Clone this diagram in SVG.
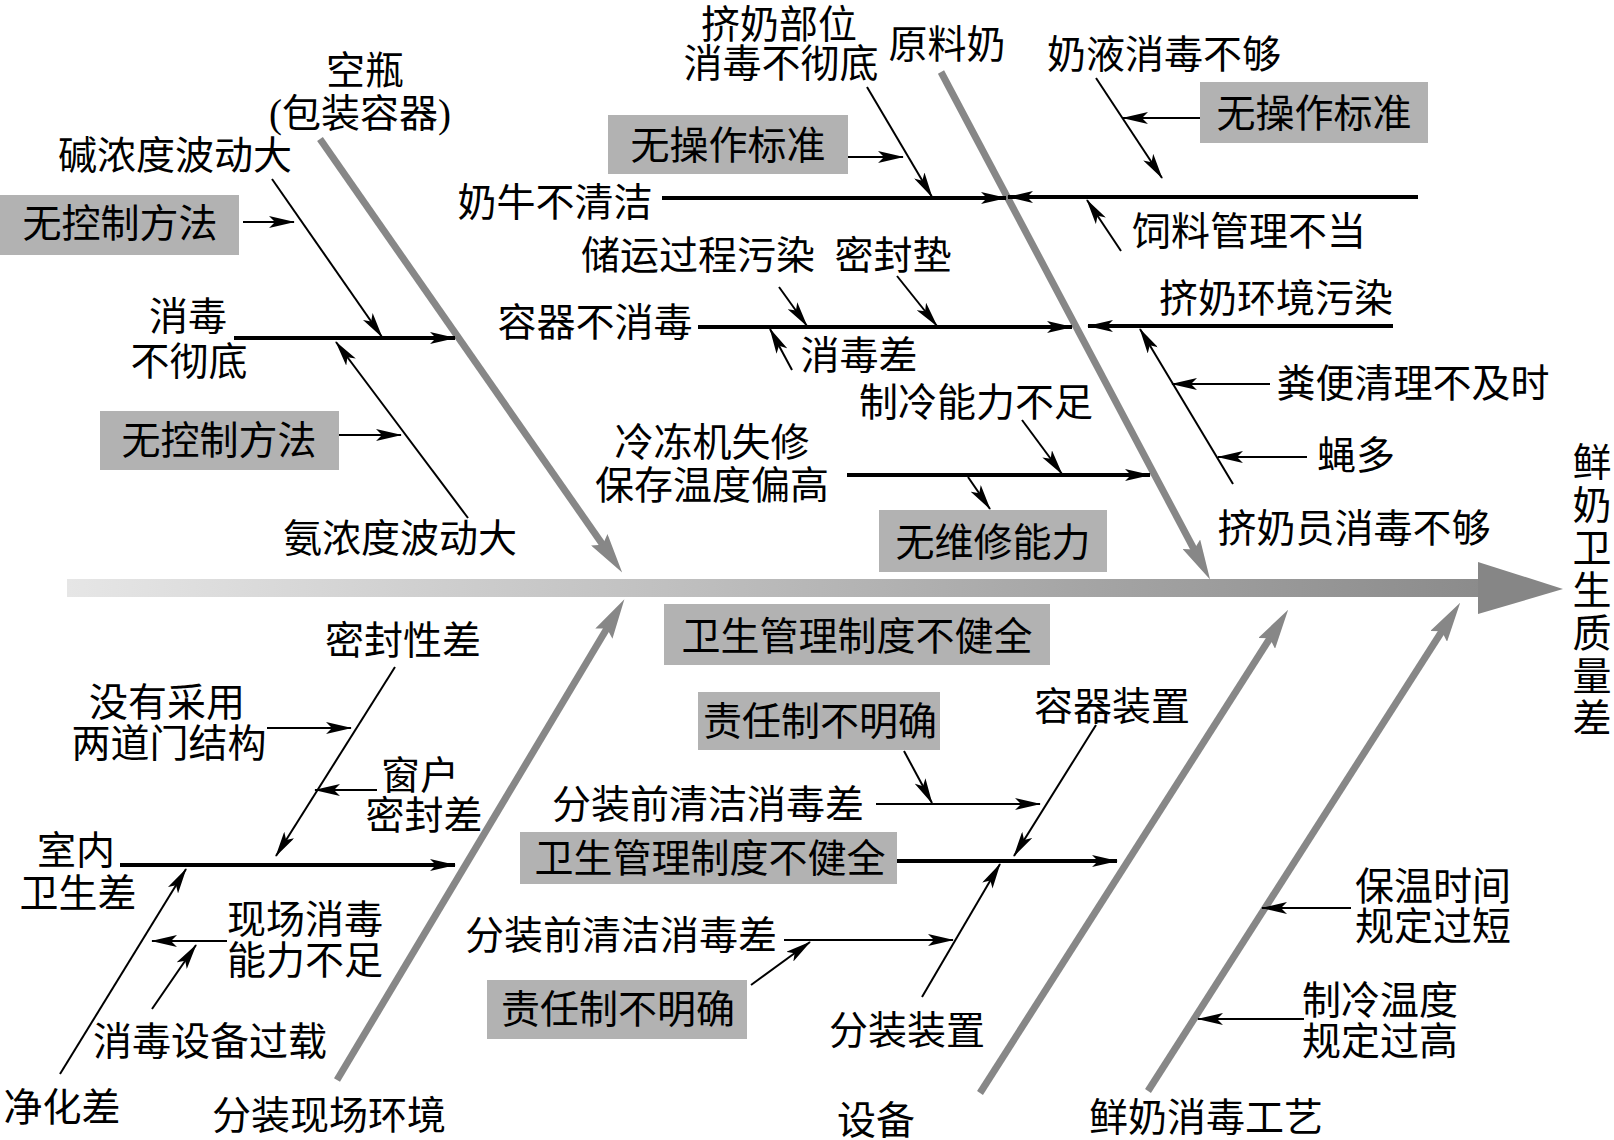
<svg xmlns="http://www.w3.org/2000/svg" width="1614" height="1140" viewBox="0 0 1614 1140">
<defs>
<linearGradient id="spineGrad" x1="67" y1="0" x2="1563" y2="0" gradientUnits="userSpaceOnUse">
<stop offset="0" stop-color="#e6e6e6"/>
<stop offset="0.4" stop-color="#c0c0c0"/>
<stop offset="1" stop-color="#868686"/>
</linearGradient>
<marker id="ga" viewBox="0 0 40 20" refX="10" refY="10" markerWidth="40" markerHeight="20" markerUnits="userSpaceOnUse" orient="auto">
<path d="M0,0 L40,10 L0,20 L6,10 Z" fill="#878787"/>
</marker>
<marker id="ba" viewBox="0 0 26 12" refX="25" refY="6" markerWidth="26" markerHeight="12" markerUnits="userSpaceOnUse" orient="auto">
<path d="M0,0 L26,6 L0,12 L6,6 Z" fill="#000"/>
</marker>
</defs>
<style>
text{font-family:"Liberation Serif","Noto Sans CJK SC",serif;font-size:39px;fill:#000;text-anchor:middle;dominant-baseline:central}
.bone{stroke:#878787;stroke-width:7;fill:none;marker-end:url(#ga)}
.t{stroke:#000;stroke-width:2;fill:none}
.k{stroke:#000;stroke-width:4;fill:none}
.ar{marker-end:url(#ba)}
.box{fill:#b2b2b2}
</style>
<rect width="1614" height="1140" fill="#fff"/>

<g id="spine">
<rect x="67" y="579" width="1412" height="18" fill="url(#spineGrad)"/>
<polygon points="1478,562 1563,589 1478,614" fill="#868686"/>
</g>

<g id="connectors">
<line class="bone" x1="320" y1="139" x2="605" y2="548"/>
<line class="bone" x1="941" y1="72" x2="1196" y2="553"/>
<line class="bone" x1="337" y1="1080" x2="609" y2="625"/>
<line class="bone" x1="980" y1="1093" x2="1272" y2="635"/>
<line class="bone" x1="1148" y1="1091" x2="1444" y2="628"/>

<line class="k ar" x1="234" y1="338" x2="455" y2="338"/>
<line class="t ar" x1="272" y1="179" x2="382" y2="337"/>
<line class="t ar" x1="243" y1="222" x2="294" y2="222"/>
<line class="t ar" x1="468" y1="518" x2="336" y2="342"/>
<line class="t ar" x1="339" y1="435" x2="401" y2="435"/>

<line class="k ar" x1="662" y1="198" x2="1006" y2="198"/>
<line class="t ar" x1="867" y1="87" x2="932" y2="197"/>
<line class="t ar" x1="848" y1="157" x2="903" y2="157"/>
<line class="k ar" x1="698" y1="327" x2="1072" y2="327"/>
<line class="t ar" x1="779" y1="287" x2="807" y2="326"/>
<line class="t ar" x1="897" y1="276" x2="937" y2="326"/>
<line class="t ar" x1="792" y1="370" x2="770" y2="329"/>
<line class="k ar" x1="847" y1="475" x2="1150" y2="475"/>
<line class="t ar" x1="1022" y1="420" x2="1062" y2="474"/>
<line class="t ar" x1="968" y1="477" x2="990" y2="509"/>

<line class="t ar" x1="1096" y1="78" x2="1162" y2="178"/>
<line class="t ar" x1="1200" y1="118" x2="1123" y2="118"/>
<line class="k ar" x1="1418" y1="197" x2="1008" y2="197"/>
<line class="t ar" x1="1121" y1="251" x2="1087" y2="200"/>
<line class="k ar" x1="1393" y1="326" x2="1088" y2="326"/>
<line class="t ar" x1="1270" y1="384" x2="1172" y2="384"/>
<line class="t ar" x1="1307" y1="457" x2="1218" y2="457"/>
<line class="t ar" x1="1233" y1="484" x2="1140" y2="329"/>

<line class="k ar" x1="120" y1="865" x2="455" y2="865"/>
<line class="t ar" x1="395" y1="667" x2="276" y2="856"/>
<line class="t ar" x1="267" y1="728" x2="351" y2="728"/>
<line class="t ar" x1="377" y1="790" x2="315" y2="790"/>
<line class="t ar" x1="60" y1="1074" x2="186" y2="869"/>
<line class="t ar" x1="227" y1="941" x2="152" y2="941"/>
<line class="t ar" x1="152" y1="1009" x2="196" y2="945"/>

<line class="t ar" x1="904" y1="751" x2="932" y2="803"/>
<line class="t ar" x1="876" y1="804" x2="1040" y2="804"/>
<line class="t ar" x1="1096" y1="725" x2="1014" y2="856"/>
<line class="k ar" x1="897" y1="861" x2="1117" y2="861"/>
<line class="t ar" x1="784" y1="940" x2="953" y2="940"/>
<line class="t ar" x1="751" y1="985" x2="810" y2="942"/>
<line class="t ar" x1="922" y1="997" x2="1000" y2="864"/>

<line class="t ar" x1="1351" y1="908" x2="1262" y2="908"/>
<line class="t ar" x1="1304" y1="1019" x2="1198" y2="1019"/>
</g>

<g id="effect">
<text x="1592" y="462">鲜</text>
<text x="1592" y="505">奶</text>
<text x="1592" y="548">卫</text>
<text x="1592" y="590">生</text>
<text x="1592" y="633">质</text>
<text x="1592" y="676">量</text>
<text x="1592" y="718">差</text>
</g>

<g id="cat-kongping"><text x="365" y="70">空瓶</text><text x="360" y="113">(包装容器)</text></g>
<g id="cat-yuanliaonai"><text x="947" y="44">原料奶</text></g>
<g id="cat-fenzhuang"><text x="329" y="1115">分装现场环境</text></g>
<g id="cat-shebei"><text x="876" y="1120">设备</text></g>
<g id="cat-gongyi"><text x="1206" y="1117">鲜奶消毒工艺</text></g>

<g id="n-xiaodu"><text x="188" y="316">消毒</text><text x="189" y="361">不彻底</text></g>
<g id="n-jian"><text x="175" y="155">碱浓度波动大</text></g>
<g id="n-wkz1"><rect class="box" x="0" y="195" width="239" height="60"/><text x="120" y="223">无控制方法</text></g>
<g id="n-wkz2"><rect class="box" x="100" y="411" width="239" height="59"/><text x="219" y="440">无控制方法</text></g>
<g id="n-an"><text x="400" y="538">氨浓度波动大</text></g>

<g id="n-jinai"><text x="779" y="24">挤奶部位</text><text x="781" y="63">消毒不彻底</text></g>
<g id="n-wcz1"><rect class="box" x="608" y="115" width="240" height="59"/><text x="728" y="145">无操作标准</text></g>
<g id="n-nainiu"><text x="555" y="202">奶牛不清洁</text></g>
<g id="n-chuyun"><text x="698" y="255">储运过程污染</text></g>
<g id="n-mifengdian"><text x="893" y="255">密封垫</text></g>
<g id="n-rongqi"><text x="595" y="322">容器不消毒</text></g>
<g id="n-xdc"><text x="859" y="355">消毒差</text></g>
<g id="n-zhileng"><text x="976" y="402">制冷能力不足</text></g>
<g id="n-lengdong"><text x="712" y="442">冷冻机失修</text><text x="712" y="485">保存温度偏高</text></g>
<g id="n-wwx"><rect class="box" x="879" y="510" width="228" height="62"/><text x="993" y="542">无维修能力</text></g>

<g id="n-naiye"><text x="1164" y="54">奶液消毒不够</text></g>
<g id="n-wcz2"><rect class="box" x="1200" y="82" width="228" height="61"/><text x="1314" y="113">无操作标准</text></g>
<g id="n-siliao"><text x="1249" y="231">饲料管理不当</text></g>
<g id="n-huanjing"><text x="1276" y="298">挤奶环境污染</text></g>
<g id="n-fenbian"><text x="1413" y="383">粪便清理不及时</text></g>
<g id="n-ying"><text x="1356" y="455">蝇多</text></g>
<g id="n-jinaiyuan"><text x="1354" y="528">挤奶员消毒不够</text></g>

<g id="n-shinei"><text x="76" y="850">室内</text><text x="78" y="893">卫生差</text></g>
<g id="n-mifengxing"><text x="403" y="640">密封性差</text></g>
<g id="n-liangdao"><text x="167" y="702">没有采用</text><text x="169" y="743">两道门结构</text></g>
<g id="n-chuanghu"><text x="420" y="775">窗户</text><text x="424" y="815">密封差</text></g>
<g id="n-jinghua"><text x="62" y="1107">净化差</text></g>
<g id="n-xianchang"><text x="305" y="919">现场消毒</text><text x="305" y="960">能力不足</text></g>
<g id="n-guozai"><text x="210" y="1041">消毒设备过载</text></g>

<g id="n-wsgl1"><rect class="box" x="664" y="604" width="386" height="61"/><text x="857" y="636">卫生管理制度不健全</text></g>
<g id="n-zrz1"><rect class="box" x="698" y="692" width="242" height="58"/><text x="820" y="721">责任制不明确</text></g>
<g id="n-fzq1"><text x="708" y="804">分装前清洁消毒差</text></g>
<g id="n-rqzz"><text x="1112" y="706">容器装置</text></g>
<g id="n-wsgl2"><rect class="box" x="520" y="832" width="377" height="52"/><text x="710" y="858">卫生管理制度不健全</text></g>
<g id="n-fzq2"><text x="621" y="935">分装前清洁消毒差</text></g>
<g id="n-zrz2"><rect class="box" x="487" y="980" width="260" height="59"/><text x="618" y="1009">责任制不明确</text></g>
<g id="n-fzzz"><text x="907" y="1030">分装装置</text></g>

<g id="n-baowen"><text x="1433" y="886">保温时间</text><text x="1433" y="926">规定过短</text></g>
<g id="n-zlwd"><text x="1380" y="1000">制冷温度</text><text x="1380" y="1041">规定过高</text></g>
</svg>
